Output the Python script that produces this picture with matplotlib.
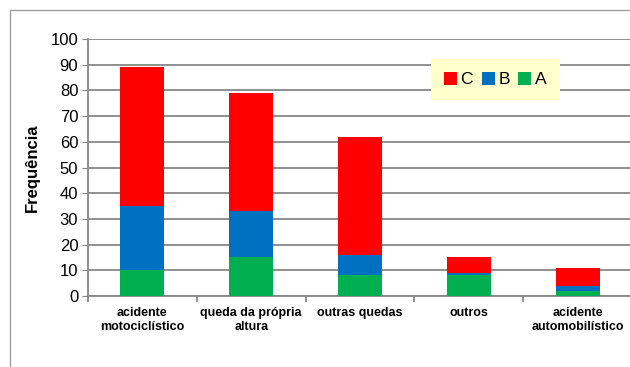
import matplotlib
matplotlib.use('Agg')
import matplotlib.pyplot as plt
from matplotlib.patches import Rectangle
import numpy as np

# -[Dados]------------------------------------------------------------------
categorias = ["acidente\nmotociclístico", "queda da própria\naltura",
              "outras quedas", "outros", "acidente\nautomobilístico"]
serie_A = [10, 15, 8, 8, 2]
serie_B = [25, 18, 8, 1, 2]
serie_C = [54, 46, 46, 6, 7]
yticks = list(range(0, 101, 10))

cor_A = "#00B050"
cor_B = "#0070C0"
cor_C = "#FF0000"
cinza = "#878787"

plt.rcParams['font.family'] = ['Liberation Sans', 'DejaVu Sans']

fig = plt.figure(figsize=(6.3, 3.67), dpi=100)
# moldura externa do gráfico
fig.patches.append(Rectangle((10/630, -0.2), 2.0, 1.2 - 10/367,
                             transform=fig.transFigure, fill=False,
                             edgecolor="#A0A0A0", linewidth=1.0))

ax = fig.add_axes([88/630, 1-296/367, 544/630, 257/367])
x = np.arange(len(categorias))
w = 0.405
ax.bar(x, serie_A, w, color=cor_A, label="A", zorder=3)
ax.bar(x, serie_B, w, bottom=serie_A, color=cor_B, label="B", zorder=3)
base_C = np.array(serie_A) + np.array(serie_B)
ax.bar(x, serie_C, w, bottom=base_C, color=cor_C, label="C", zorder=3)

ax.set_xlim(-0.5, len(categorias) - 0.5)
ax.set_ylim(0, 100)
ax.set_yticks(yticks)
ax.tick_params(axis='y', labelsize=12, length=4, color=cinza, pad=3)
ax.yaxis.grid(True, color=cinza, linewidth=1.3, zorder=0)
ax.set_axisbelow(True)

ax.set_xticks(x)
ax.set_xticklabels(categorias, fontsize=9, fontweight='bold')
ax.set_xticks(np.arange(len(categorias) + 1) - 0.5, minor=True)
ax.tick_params(axis='x', which='major', length=0, pad=8)
ax.tick_params(axis='x', which='minor', length=4, color=cinza, width=1.3)

for s in ["top", "right"]:
    ax.spines[s].set_visible(False)
ax.spines["left"].set_color(cinza)
ax.spines["bottom"].set_color(cinza)
ax.spines["left"].set_linewidth(1.3)
ax.spines["bottom"].set_linewidth(1.3)

ax.set_ylabel("Frequência", fontsize=12, fontweight='bold', labelpad=8)

h, l = ax.get_legend_handles_labels()
leg = ax.legend(h[::-1], l[::-1], ncol=3, loc='upper left',
                bbox_to_anchor=((431-88)/544, (296-59)/257),
                borderaxespad=0, frameon=True, fancybox=False, fontsize=12.5,
                handlelength=0.75, handleheight=0.75, handletextpad=0.2,
                columnspacing=0.5, borderpad=0.75)
leg.get_frame().set_facecolor("#FFFFCC")
leg.get_frame().set_edgecolor("none")
leg.get_frame().set_alpha(1)

fig.savefig("out.png", dpi=100)
